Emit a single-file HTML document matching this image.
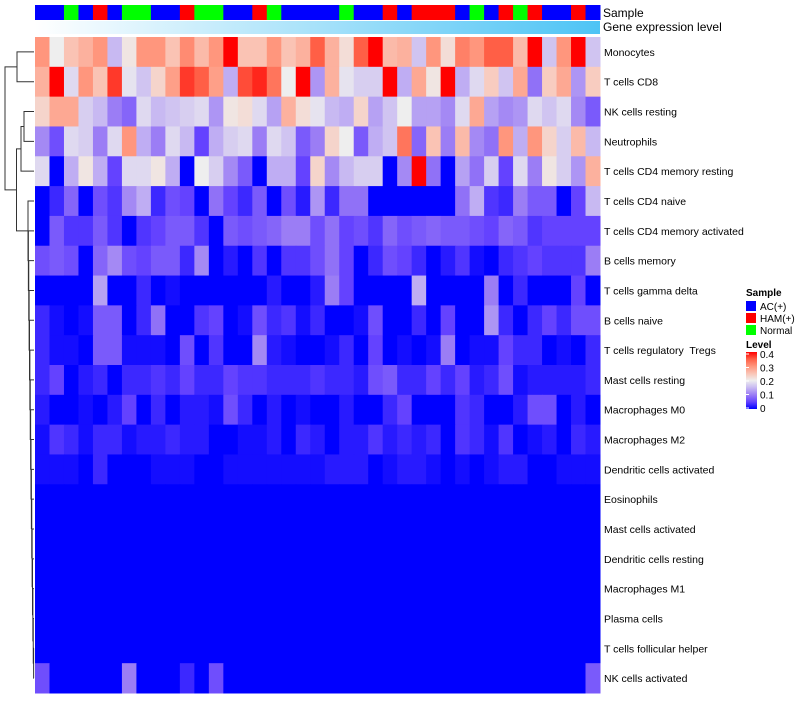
<!DOCTYPE html>
<html><head><meta charset="utf-8">
<style>
body{margin:0;background:#fff;width:800px;height:700px;overflow:hidden;font-family:"Liberation Sans",sans-serif;}
svg text{font-family:"Liberation Sans",sans-serif;white-space:pre;}
</style></head>
<body>
<svg id="chart" width="800" height="700" xmlns="http://www.w3.org/2000/svg">
<defs>
<linearGradient id="geneGrad" x1="0" x2="1" y1="0" y2="0">
<stop offset="0" stop-color="#ffffff"/><stop offset="1" stop-color="#4ec4f5"/>
</linearGradient>
<linearGradient id="levelGrad" x1="0" x2="0" y1="1" y2="0">
<stop offset="0" stop-color="#0000ff"/><stop offset="0.125" stop-color="#6442ff"/><stop offset="0.25" stop-color="#9b7df5"/><stop offset="0.375" stop-color="#c8b9f2"/><stop offset="0.5" stop-color="#eeeeee"/><stop offset="0.625" stop-color="#fac3b4"/><stop offset="0.75" stop-color="#ff967d"/><stop offset="0.875" stop-color="#ff5f46"/><stop offset="1" stop-color="#ff0000"/>
</linearGradient>
</defs>
<g id="cells"></g>
<g id="samplebar"></g>
<rect x="35" y="21" width="565" height="13" fill="url(#geneGrad)"/>
<text x="603" y="17" font-size="12">Sample</text>
<text x="603" y="31" font-size="12">Gene expression level</text>
<g id="rowlabels"></g>
<g id="dendro" stroke="#333" stroke-width="1" fill="none"></g>
<g>
<text x="746" y="296" font-size="10" font-weight="bold">Sample</text>
<rect x="746" y="301" width="10" height="10" fill="#0000ff"/>
<text x="760" y="310" font-size="10">AC(+)</text>
<rect x="746" y="313" width="10" height="10" fill="#ff0000"/>
<text x="760" y="322" font-size="10">HAM(+)</text>
<rect x="746" y="325" width="10" height="10" fill="#00ff00"/>
<text x="760" y="334" font-size="10">Normal</text>
</g>
<g>
<text x="746" y="348" font-size="10" font-weight="bold">Level</text>
<rect x="746" y="352" width="11" height="57" fill="url(#levelGrad)"/>
<g id="levelticks"></g>
</g>
</svg>
<script>
const rowNames=["Monocytes","T cells CD8","NK cells resting","Neutrophils","T cells CD4 memory resting","T cells CD4 naive","T cells CD4 memory activated","B cells memory","T cells gamma delta","B cells naive","T cells regulatory  Tregs","Mast cells resting","Macrophages M0","Macrophages M2","Dendritic cells activated","Eosinophils","Mast cells activated","Dendritic cells resting","Macrophages M1","Plasma cells","T cells follicular helper","NK cells activated"];
const sampleGroups="AANAHANNAAHNNAAHNAAAANAAHAHHHANAHNHAAHA".split("");
const levelTicks=[0,0.1,0.2,0.3,0.4];
const r0=[.3,.2,.25,.27,.3,.15,.21,.3,.3,.25,.31,.26,.3,.4,.25,.25,.3,.25,.27,.35,.27,.22,.35,.4,.26,.27,.16,.3,.22,.32,.3,.35,.35,.26,.4,.16,.3,.4,.16];
const r1=[.27,.4,.18,.3,.25,.37,.19,.16,.23,.29,.37,.35,.29,.14,.36,.38,.33,.2,.4,.12,.27,.19,.17,.17,.4,.14,.28,.21,.4,.14,.18,.24,.16,.28,.09,.24,.28,.12,.24];
const r2=[.23,.28,.28,.17,.15,.1,.08,.18,.15,.16,.17,.18,.12,.21,.22,.18,.13,.27,.22,.19,.15,.14,.23,.13,.16,.2,.13,.13,.11,.18,.28,.13,.11,.12,.18,.16,.18,.11,.07];
const r3=[.11,.06,.18,.17,.1,.18,.3,.14,.1,.18,.15,.05,.14,.17,.18,.1,.18,.16,.07,.1,.23,.2,.07,.14,.16,.33,.08,.25,.1,.26,.11,.09,.3,.14,.3,.23,.17,.26,.15];
const r4=[.18,0,.14,.21,.14,.05,.18,.18,.21,.14,0,.2,.17,.11,.07,0,.14,.14,.05,.23,.11,.15,.17,.17,0,.11,.4,.09,0,.13,.09,.17,.05,.18,.1,.21,.17,.12,.27];
const r5=[0,.03,.08,0,.06,.04,.11,.14,.03,.06,.05,0,.09,.05,.03,.07,0,.06,.02,.12,.03,.09,.09,0,0,0,0,0,0,.09,.14,.04,.03,.1,.07,.07,0,.05,.15];
const r6=[0,.07,.04,.04,.07,.04,0,.04,.05,.07,.07,.04,0,.07,.06,.07,.08,.1,.1,.06,.09,.05,.06,.04,.08,.06,.07,.08,.07,.07,.06,.05,.08,.07,.04,.05,.05,.05,.05];
const r7=[.06,.07,.06,0,.08,.11,.06,.05,.07,.07,.03,.11,0,.02,0,.04,0,.04,.04,.06,.09,.05,0,.03,.06,.05,.03,0,.02,.04,.01,0,.03,.04,.05,.04,.04,.04,.1];
const r8=[0,0,0,0,.13,0,0,.03,0,.01,0,0,0,0,0,0,.02,0,0,.02,.1,.05,0,0,0,0,.14,0,0,0,0,.1,0,.03,0,0,0,.05,0];
const r9=[.03,.01,0,.01,.07,.07,0,.03,.09,0,0,.04,.05,0,.01,.06,.03,.04,.01,.03,0,0,.01,.06,0,0,.03,0,.05,0,0,.12,.03,0,.03,.05,.03,.06,.06];
const r10=[.03,.01,.01,0,.07,.07,.01,.01,.01,0,.06,0,.04,0,0,.11,.02,.01,0,0,.01,.03,0,.05,0,.01,0,.01,.1,0,.01,.01,.05,.03,.03,0,.01,0,.03];
const r11=[.03,.05,0,.02,.03,0,.03,.03,.04,.03,.05,.03,.03,.05,.04,.04,.03,.03,.03,.04,.03,.03,.02,.06,.07,.03,.03,.05,.03,.05,.02,.03,.06,.01,.02,.02,.02,.02,.03];
const r12=[.02,0,0,.01,0,.02,.05,0,.03,0,.02,.02,.01,.06,.03,0,.02,0,.01,0,0,.02,0,0,.03,.05,0,0,0,.04,.03,0,0,.02,.06,.06,0,.02,0];
const r13=[.01,.04,.03,.01,.03,.03,.01,.02,.02,.03,.02,.02,0,0,.01,.01,.02,0,.03,.02,0,.02,.02,.04,.02,.03,.02,.03,0,.04,.03,.01,.04,0,.01,.02,0,.03,.02];
const r14=[.01,.01,.01,0,.03,0,0,0,.01,.01,.01,0,0,.01,.01,.01,.01,.01,.01,.01,.02,.02,.02,0,.01,.02,.02,.01,0,.01,0,.01,.02,.02,0,0,.01,.01,.01];
const r21=[.06,0,0,0,0,0,.1,0,0,0,.03,0,.06,0,0,0,0,0,0,0,0,0,0,0,0,0,0,0,0,0,0,0,0,0,0,0,0,0,.07];
const zeros=new Array(39).fill(0);
const values=[r0,r1,r2,r3,r4,r5,r6,r7,r8,r9,r10,r11,r12,r13,r14,zeros,zeros,zeros,zeros,zeros,zeros,r21];

const X0=35,X1=600,Y0=37,Y1=693;
const nC=sampleGroups.length,nR=rowNames.length;
const cw=(X1-X0)/nC,rh=(Y1-Y0)/nR;
const xPos=i=>X0+i*cw;
const yPos=j=>Y0+j*rh;
const stops=[[0,0,0,255],[0.05,100,66,255],[0.1,155,125,245],[0.15,200,185,242],[0.2,238,238,238],[0.25,250,195,180],[0.3,255,150,125],[0.35,255,95,70],[0.4,255,0,0]];
function color(v){
  v=Math.max(0,Math.min(0.4,v));
  for(let k=1;k<stops.length;k++){
    if(v<=stops[k][0]){
      const a=stops[k-1],b=stops[k],t=(v-a[0])/(b[0]-a[0]);
      const c=i=>Math.round(a[i]+(b[i]-a[i])*t);
      return `rgb(${c(1)},${c(2)},${c(3)})`;
    }
  }
  return 'rgb(255,0,0)';
}
const NS="http://www.w3.org/2000/svg";
const cells=document.getElementById('cells');
for(let j=0;j<nR;j++)for(let i=0;i<nC;i++){
  const r=document.createElementNS(NS,'rect');
  r.setAttribute('x',xPos(i));r.setAttribute('y',yPos(j));
  r.setAttribute('width',cw+0.5);r.setAttribute('height',rh+0.5);
  r.setAttribute('fill',color(values[j][i]));
  
  
  cells.appendChild(r);
}
const gc={A:'#0000ff',H:'#ff0000',N:'#00ff00'};
const sb=document.getElementById('samplebar');
sampleGroups.forEach((g,i)=>{
  const r=document.createElementNS(NS,'rect');
  r.setAttribute('x',xPos(i));r.setAttribute('y',5);
  r.setAttribute('width',cw+0.5);r.setAttribute('height',15);
  r.setAttribute('fill',gc[g]);
  
  
  sb.appendChild(r);
});
const rl=document.getElementById('rowlabels');
rowNames.forEach((n,j)=>{
  const t=document.createElementNS(NS,'text');
  t.setAttribute('x',604);t.setAttribute('y',yPos(j)+rh/2+4);
  t.setAttribute('font-size','10.5');t.textContent=n;
  
  
  rl.appendChild(t);
});
const lt=document.getElementById('levelticks');
levelTicks.forEach(v=>{
  const y=408-v*135;
  const t=document.createElementNS(NS,'text');
  t.setAttribute('x',760);t.setAttribute('y',y+4);t.setAttribute('font-size','10');
  t.textContent=v===0?'0':String(v);
  
  
  lt.appendChild(t);
  const l=document.createElementNS(NS,'line');
  l.setAttribute('x1',746);l.setAttribute('x2',749);l.setAttribute('y1',y);l.setAttribute('y2',y);
  l.setAttribute('stroke','#fff');
  lt.appendChild(l);
});
const dg=document.getElementById('dendro');
const yc=j=>yPos(j)+rh/2;
function P(d){const p=document.createElementNS(NS,'path');p.setAttribute('d',d);


dg.appendChild(p);}
P(`M34 ${yc(0)}H17V${yc(1)}H34`);
P(`M34 ${yc(2)}H24V${yc(3)}H34`);
P(`M24 ${(yc(2)+yc(3))/2}H21V${yc(4)}H34`);
let prevY=yc(nR-1),prevX=34;
for(let j=nR-2;j>=5;j--){
  const x=28+(j-5)*(6/(nR-6));
  P(`M${prevX} ${prevY}H${x}V${yc(j)}H34`);
  prevY=(prevY+yc(j))/2;prevX=x;
}
const lowTop=prevY;
const midTop=((yc(2)+yc(3))/2+yc(4))/2;
P(`M${prevX} ${lowTop}H16.5V${midTop}H21`);
const upY=(yc(0)+yc(1))/2, restY=(lowTop+midTop)/2;
P(`M17 ${upY}H5V${restY}H16.5`);
</script>
</body></html>
